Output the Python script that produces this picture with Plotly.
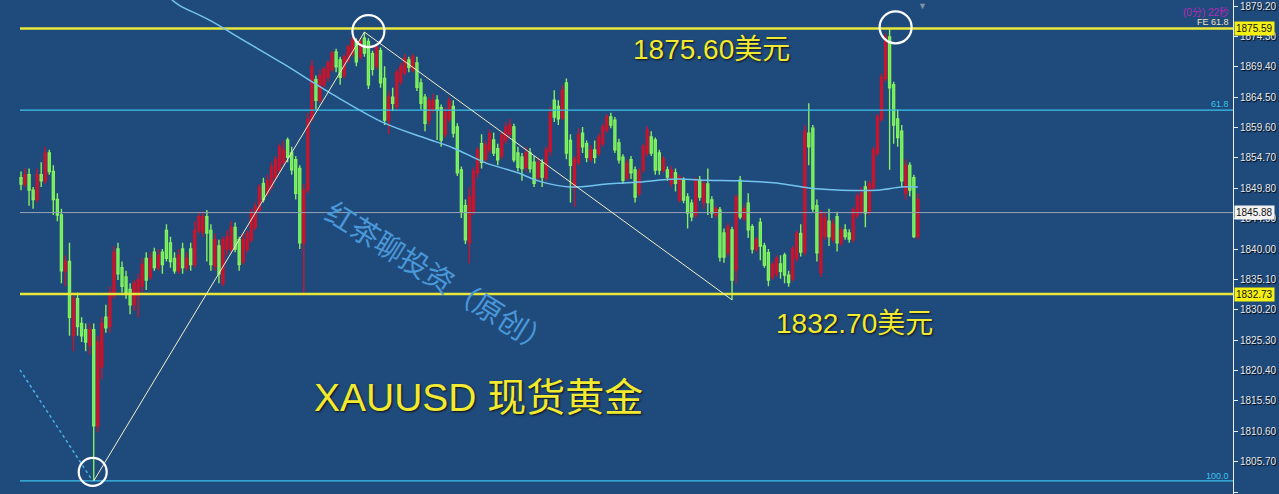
import plotly.graph_objects as go

# ---------------- data ----------------
opens = [
    1851.5, 1850.5, 1852.0, 1849.5, 1848.0, 1852.0, 1851.0, 1855.5, 1852.5, 1848.0,
    1845.5, 1836.5, 1838.0, 1826.0, 1832.0, 1828.0, 1827.0, 1824.5, 1827.0, 1811.5,
    1821.0, 1829.0, 1827.5, 1832.5, 1840.0, 1837.0, 1835.5, 1833.5, 1831.0, 1832.5,
    1834.0, 1838.5, 1835.5, 1839.5, 1837.0, 1839.5, 1843.0, 1841.0, 1838.5, 1836.5,
    1840.0, 1837.0, 1840.0, 1837.5,
    1843.0, 1842.8, 1845.2, 1843.0, 1837.2, 1840.5, 1834.5, 1840.0, 1840.0, 1843.5,
    1841.5, 1838.0, 1840.0, 1841.5, 1843.5, 1846.3, 1850.6, 1849.0, 1850.0, 1851.6,
    1852.8, 1854.0, 1857.6, 1855.5, 1854.4, 1853.0, 1841.0, 1849.5, 1861.0, 1867.3,
    1864.0, 1866.5, 1867.7, 1869.0, 1871.8, 1870.5, 1868.0, 1870.5, 1871.5, 1873.5,
    1871.0, 1874.0, 1873.5, 1871.5, 1869.5, 1872.0,
    1867.5, 1860.8, 1864.5, 1863.0, 1867.0, 1868.5, 1870.5, 1868.9, 1870.0, 1866.8,
    1864.5, 1860.8, 1862.4, 1864.0, 1862.8, 1858.5, 1861.0, 1863.0, 1859.7, 1852.75,
    1847.0, 1841.0, 1846.0, 1852.3, 1857.0, 1854.5, 1856.0, 1857.6, 1856.2, 1855.0,
    1857.6, 1858.5, 1859.7, 1855.5, 1854.8, 1853.2, 1855.5, 1854.0, 1851.6, 1853.8,
    1851.5, 1855.8, 1864.0, 1863.0, 1861.2, 1866.8,
    1857.5, 1850.0, 1854.0, 1858.7, 1857.0, 1854.5, 1856.0, 1855.5, 1857.0, 1859.2,
    1861.3, 1860.8, 1857.1, 1854.8, 1851.5, 1854.4, 1852.75, 1849.0, 1852.8, 1855.5,
    1858.1, 1857.6, 1855.5, 1852.75, 1852.75, 1850.6, 1852.3, 1847.9, 1851.1, 1848.4,
    1847.4, 1845.5, 1851.1, 1847.5, 1850.5, 1847.9, 1845.5, 1846.3, 1842.6, 1839.4,
    1843.1, 1836.6, 1851.1, 1845.0,
    1847.4, 1843.6, 1840.0, 1844.3, 1840.5, 1839.4, 1835.5, 1836.0, 1837.6, 1839.0,
    1835.8, 1835.2, 1838.5, 1842.5, 1839.5, 1858.7, 1859.5, 1847.0, 1836.2, 1842.0,
    1844.5, 1841.5, 1845.2, 1841.0, 1843.1, 1842.6, 1841.5, 1845.5, 1846.0, 1850.0,
    1846.0, 1850.0, 1855.5, 1861.0, 1867.5, 1874.2, 1866.5, 1861.0, 1859.0, 1849.0,
    1853.5, 1851.5, 1842.0,
]
highs = [
    1852.5, 1853.0, 1853.0, 1850.0, 1853.0, 1854.0, 1856.5, 1856.0, 1853.5, 1849.0,
    1846.5, 1839.0, 1841.0, 1833.0, 1833.0, 1829.0, 1828.0, 1828.0, 1828.0, 1826.0,
    1829.0, 1831.0, 1834.0, 1840.5, 1841.0, 1838.0, 1836.5, 1834.5, 1835.0, 1836.0,
    1838.5, 1839.5, 1839.5, 1840.2, 1840.0, 1840.0, 1844.0, 1842.0, 1839.5, 1840.0,
    1841.0, 1839.5, 1841.0, 1844.5,
    1846.0, 1846.0, 1846.3, 1844.0, 1842.5, 1841.5, 1842.0, 1843.0, 1844.5, 1844.3,
    1842.0, 1842.5, 1843.0, 1846.5, 1847.5, 1850.5, 1851.5, 1852.0, 1854.0, 1855.0,
    1857.0, 1857.5, 1858.0, 1856.5, 1855.0, 1853.5, 1850.5, 1862.0, 1870.5, 1868.0,
    1869.0, 1869.5, 1870.5, 1872.0, 1872.3, 1871.0, 1871.5, 1873.0, 1874.2, 1874.0,
    1874.2, 1875.0, 1874.0, 1872.0, 1873.0, 1872.5,
    1869.5, 1865.5, 1866.0, 1869.0, 1870.0, 1871.5, 1871.0, 1871.5, 1871.0, 1867.5,
    1865.0, 1864.5, 1865.0, 1864.8, 1863.3, 1862.8, 1864.5, 1864.0, 1860.3, 1853.3,
    1848.0, 1850.0, 1853.2, 1856.5, 1858.5, 1857.5, 1859.3, 1858.8, 1857.0, 1859.0,
    1860.5, 1861.0, 1860.2, 1856.5, 1855.5, 1856.5, 1856.3, 1855.0, 1854.8, 1854.5,
    1856.6, 1863.0, 1865.6, 1864.0, 1866.5, 1867.5,
    1858.5, 1855.0, 1859.5, 1859.7, 1857.5, 1856.8, 1857.5, 1858.6, 1860.3, 1861.8,
    1862.0, 1861.3, 1857.8, 1855.3, 1854.5, 1855.0, 1853.3, 1853.0, 1857.0, 1859.8,
    1859.0, 1858.0, 1856.0, 1855.0, 1853.3, 1853.4, 1853.0, 1852.0, 1851.6, 1849.0,
    1848.0, 1851.6, 1851.8, 1851.0, 1853.0, 1848.5, 1847.0, 1846.8, 1843.3, 1844.2,
    1843.6, 1848.8, 1851.8, 1847.2,
    1849.0, 1844.0, 1842.0, 1845.0, 1841.0, 1840.0, 1838.0, 1839.0, 1839.0, 1839.4,
    1836.5, 1840.5, 1843.0, 1844.0, 1860.0, 1863.5, 1860.0, 1848.0, 1846.3, 1845.8,
    1846.5, 1844.8, 1846.0, 1843.5, 1844.0, 1843.2, 1846.8, 1849.0, 1850.0, 1851.0,
    1851.0, 1856.5, 1861.8, 1868.3, 1874.8, 1875.6, 1867.0, 1862.5, 1860.0, 1854.5,
    1854.0, 1852.0, 1849.0,
]
lows = [
    1849.5, 1850.0, 1847.0, 1846.5, 1847.5, 1850.0, 1850.5, 1852.0, 1845.5, 1844.5,
    1834.5, 1834.0, 1826.0, 1823.5, 1826.0, 1825.0, 1823.5, 1823.0, 1802.6, 1810.5,
    1819.0, 1826.5, 1826.5, 1832.0, 1835.0, 1833.0, 1832.0, 1829.5, 1830.0, 1829.0,
    1833.0, 1833.4, 1835.0, 1836.5, 1836.5, 1836.0, 1838.0, 1837.0, 1836.0, 1836.0,
    1836.0, 1836.5, 1836.5, 1837.0,
    1842.5, 1842.0, 1838.0, 1836.5, 1836.5, 1834.5, 1834.0, 1839.0, 1839.5, 1839.5,
    1836.5, 1837.5, 1839.5, 1841.0, 1843.0, 1845.8, 1847.5, 1848.5, 1849.5, 1851.0,
    1852.3, 1853.5, 1854.0, 1852.0, 1848.0, 1840.0, 1832.5, 1849.0, 1860.5, 1862.5,
    1863.5, 1866.0, 1867.0, 1868.5, 1868.5, 1866.5, 1867.5, 1870.0, 1871.0, 1869.5,
    1870.5, 1871.0, 1865.8, 1868.0, 1869.0, 1866.0,
    1860.0, 1858.5, 1862.3, 1862.5, 1866.5, 1868.0, 1868.5, 1868.5, 1865.5, 1862.5,
    1859.0, 1860.0, 1862.0, 1857.6, 1856.5, 1858.0, 1860.5, 1858.0, 1851.8, 1845.0,
    1840.8, 1837.7, 1845.5, 1851.5, 1853.0, 1854.0, 1855.5, 1855.0, 1853.5, 1854.5,
    1857.0, 1858.0, 1854.0, 1852.5, 1851.0, 1852.5, 1852.3, 1850.0, 1851.0, 1850.0,
    1851.0, 1855.0, 1860.5, 1860.0, 1860.8, 1854.5,
    1847.5, 1846.8, 1853.5, 1855.5, 1854.0, 1854.0, 1853.8, 1855.0, 1856.5, 1858.8,
    1859.5, 1855.5, 1853.8, 1850.5, 1851.0, 1851.3, 1847.5, 1848.5, 1852.3, 1855.0,
    1855.0, 1852.0, 1852.0, 1852.3, 1851.0, 1850.0, 1849.3, 1847.5, 1847.4, 1843.3,
    1844.5, 1845.0, 1847.8, 1846.5, 1845.5, 1845.0, 1845.0, 1838.0, 1837.8, 1838.8,
    1831.8, 1834.5, 1844.8, 1844.5,
    1841.8, 1839.3, 1839.5, 1838.2, 1837.0, 1834.0, 1835.0, 1835.5, 1835.2, 1834.5,
    1833.9, 1834.8, 1838.0, 1838.8, 1839.0, 1853.5, 1846.0, 1838.0, 1835.5, 1841.5,
    1840.5, 1841.0, 1839.6, 1840.5, 1841.5, 1841.0, 1841.0, 1845.0, 1845.6, 1843.5,
    1845.5, 1849.5, 1855.0, 1860.5, 1867.0, 1852.8, 1857.0, 1856.5, 1850.0, 1848.0,
    1848.5, 1841.8, 1841.5,
]
closes = [
    1850.5, 1852.0, 1849.5, 1848.0, 1852.0, 1851.0, 1855.5, 1852.5, 1848.0, 1845.5,
    1836.5, 1838.0, 1829.0, 1832.0, 1827.5, 1826.0, 1825.0, 1827.0, 1811.5, 1825.0,
    1828.0, 1827.3, 1833.0, 1839.5, 1836.0, 1834.0, 1833.0, 1831.0, 1834.5, 1835.0,
    1837.5, 1835.0, 1838.5, 1837.0, 1839.0, 1837.5, 1838.5, 1838.0, 1836.5, 1839.0,
    1837.0, 1838.5, 1837.5, 1843.0,
    1845.2, 1845.2, 1842.6, 1837.5, 1841.5, 1836.0, 1841.5, 1842.0, 1843.5, 1840.0,
    1837.5, 1841.5, 1842.5, 1845.8, 1846.8, 1850.0, 1848.0, 1851.0, 1853.2, 1854.4,
    1856.5, 1856.0, 1854.8, 1852.8, 1849.0, 1841.0, 1849.5, 1861.0, 1869.5, 1864.0,
    1868.0, 1869.0, 1870.0, 1871.6, 1869.4, 1867.7, 1871.0, 1872.6, 1873.7, 1870.2,
    1873.5, 1871.6, 1866.5, 1869.0, 1872.5, 1866.8,
    1860.8, 1864.5, 1863.5, 1868.5, 1869.4, 1870.8, 1869.3, 1871.0, 1866.1, 1863.5,
    1860.3, 1863.9, 1864.0, 1862.4, 1857.6, 1862.0, 1863.9, 1858.7, 1852.3, 1846.0,
    1841.5, 1848.5, 1852.5, 1856.0, 1854.0, 1856.8, 1858.6, 1855.5, 1854.4, 1858.4,
    1859.7, 1860.0, 1854.4, 1853.2, 1853.0, 1855.5, 1853.0, 1850.6, 1854.0, 1851.6,
    1856.0, 1862.0, 1861.3, 1861.0, 1865.6, 1855.5,
    1853.5, 1854.5, 1858.5, 1856.5, 1854.8, 1856.0, 1854.8, 1858.0, 1859.7, 1861.3,
    1860.0, 1856.0, 1854.4, 1851.1, 1853.8, 1852.3, 1848.4, 1852.5, 1856.5, 1859.2,
    1855.5, 1852.75, 1852.75, 1854.5, 1851.6, 1852.7, 1850.6, 1851.6, 1847.9, 1845.8,
    1845.2, 1851.0, 1848.4, 1850.5, 1847.5, 1845.8, 1846.5, 1838.7, 1838.7, 1843.6,
    1835.0, 1848.4, 1845.2, 1846.5,
    1843.1, 1840.0, 1841.5, 1840.5, 1837.4, 1835.0, 1837.5, 1838.5, 1836.4, 1835.8,
    1834.6, 1840.0, 1842.5, 1839.5, 1859.0, 1856.5, 1846.5, 1839.4, 1845.8, 1845.0,
    1842.0, 1844.0, 1841.0, 1843.0, 1842.0, 1841.6, 1846.3, 1848.5, 1849.0, 1845.8,
    1850.5, 1856.0, 1861.3, 1867.7, 1874.2, 1866.0, 1860.0, 1858.0, 1851.0, 1853.5,
    1849.5, 1842.0, 1848.0,
]
bar_index = list(range(len(opens)))

# long moving average (light blue curve)
ma_index = [37, 39, 47, 55, 65, 77, 90, 100, 107, 115, 123, 128, 136, 145, 153,
            162, 170, 178, 187, 195, 203, 212, 218, 222]
ma_values = [1880.4, 1879.4, 1876.8, 1873.7, 1869.85, 1865.0, 1860.3, 1857.9, 1856.3,
             1853.9, 1852.3, 1851.0, 1850.0, 1850.5, 1850.8, 1851.3, 1851.1, 1851.0,
             1850.65, 1849.85, 1849.5, 1849.5, 1850.0, 1850.0]

# horizontal levels
level_values = [1875.59, 1862.4, 1845.88, 1832.73, 1802.6]
level_colors = ["#e8e83a", "#3cc4ee", "#98a2b6", "#e8e83a", "#3cc4ee"]
level_widths = [2.5, 1.2, 1, 2.5, 1.2]

# dotted leg of the expansion tool
dotted_index = [-0.25, 17.75]
dotted_values = [1820.5, 1802.6]

# right-axis ticks
tick_values = [1879.20, 1874.30, 1869.40, 1864.50, 1859.60, 1854.70, 1849.80,
               1844.90, 1840.00, 1835.10, 1830.20, 1825.30, 1820.40, 1815.50,
               1810.60, 1805.70, 1800.80]
tick_labels = ["%.2f" % v for v in tick_values]

# ---------------- figure ----------------
BG = "#1f4a7c"
W, H = 1279, 494
PLOT_W = 1233
X_RANGE = [-21 / 4.04, (PLOT_W - 21) / 4.04]
Y_RANGE = [1800.49, 1880.17]

fig = go.Figure()

# horizontal levels
for v, c, w in zip(level_values, level_colors, level_widths):
    fig.add_trace(go.Scatter(x=[-0.25, X_RANGE[1]], y=[v, v], mode="lines",
                             line=dict(color=c, width=w), hoverinfo="skip",
                             showlegend=False))

# moving average
fig.add_trace(go.Scatter(x=ma_index, y=ma_values, mode="lines",
                         line=dict(color="#72c4ee", width=1.5, shape="spline"),
                         hoverinfo="skip", showlegend=False))

# candles
fig.add_trace(go.Candlestick(
    x=bar_index, open=opens, high=highs, low=lows, close=closes,
    increasing=dict(fillcolor="#c8142c", line=dict(color="#c8142c", width=1.4)),
    decreasing=dict(fillcolor="#4cee52", line=dict(color="#86f060", width=1.4)),
    whiskerwidth=0, showlegend=False))

# trend lines: low -> first peak -> retest low
low_i = min(range(len(lows)), key=lambda i: lows[i])
peak_i = max(range(0, 150), key=lambda i: highs[i])
end_i = min(range(150, len(lows)), key=lambda i: lows[i])
spike_i = max(range(150, len(highs)), key=lambda i: highs[i])
fig.add_trace(go.Scatter(x=[low_i, peak_i, end_i],
                         y=[lows[low_i], highs[peak_i], lows[end_i]],
                         mode="lines", line=dict(color="#f2f0c8", width=1),
                         hoverinfo="skip", showlegend=False))
fig.add_trace(go.Scatter(x=dotted_index, y=dotted_values, mode="lines",
                         line=dict(color="#4aaee6", width=1.5, dash="dot"),
                         hoverinfo="skip", showlegend=False))

# circles (pixel-sized, anchored to the data points)
def circle(xa, ya, r, dx=0, dy=0):
    return dict(type="circle", xref="x", yref="y", xsizemode="pixel",
                ysizemode="pixel", xanchor=xa, yanchor=ya,
                x0=dx - r, x1=dx + r, y0=dy - r, y1=dy + r,
                line=dict(color="white", width=2.2), layer="above")

shapes = [
    circle(low_i, lows[low_i], 14, dx=-1, dy=9),
    circle(peak_i, highs[peak_i], 16, dx=4, dy=1),
    circle(spike_i, highs[spike_i], 16, dx=6, dy=1),
]

TXT = "Liberation Sans, Noto Sans CJK SC, sans-serif"
YEL = "#f2ea30"
SH = "1px 1px 2px #101010"

def px_ann(text, px, py, size, color, xanchor="center", angle=0, family=TXT,
           shadow=SH, **kw):
    return dict(text=text, xref="paper", yref="paper", x=px / PLOT_W,
                y=1 - py / H, xanchor=xanchor, yanchor="middle", showarrow=False,
                textangle=angle,
                font=dict(size=size, color=color, family=family, shadow=shadow), **kw)

annotations = [
    px_ann("1875.60美元", 711, 50, 28, YEL),
    px_ann("1832.70美元", 854, 323, 28, YEL),
    px_ann("XAUUSD 现货黄金", 478, 397, 39, YEL),
    px_ann("红茶聊投资（原创）", 440, 276, 29, "#4a98d8", angle=32,
           family="Noto Sans CJK SC", shadow="none"),
    px_ann("(0分) 22秒", 1231, 12, 10, "#b42ab4", xanchor="right", shadow="none"),
    px_ann("FE 61.8", 1231, 22, 9, "#f0e8c0", xanchor="right", shadow="none"),
    px_ann("61.8", 1231, 104, 9, "#3cc4ee", xanchor="right", shadow="none"),
    px_ann("100.0", 1231, 476, 9, "#3cc4ee", xanchor="right", shadow="none"),
    px_ann("▼", 922, 6, 9, "#8090a8", shadow="none"),
]

# price boxes on the right axis
for v, bg in [(1875.59, "#f4f014"), (1832.73, "#f4f014"), (1845.88, "#f2f2f2")]:
    annotations.append(dict(text="%.2f" % v, xref="paper", yref="y", x=1, y=v,
                            xanchor="left", yanchor="middle", xshift=1,
                            showarrow=False, bgcolor=bg, borderpad=1,
                            font=dict(size=10, color="#111111", family=TXT)))

fig.update_layout(
    width=W, height=H,
    margin=dict(l=0, r=W - PLOT_W, t=0, b=0, pad=0),
    paper_bgcolor=BG, plot_bgcolor=BG,
    showlegend=False,
    shapes=shapes, annotations=annotations,
    xaxis=dict(range=X_RANGE, visible=False, rangeslider=dict(visible=False),
               showgrid=False, zeroline=False),
    yaxis=dict(range=Y_RANGE, side="right", showgrid=False, zeroline=False,
               tickvals=tick_values, ticktext=tick_labels,
               showline=True, linecolor="#e8eef6", linewidth=1,
               ticks="outside", ticklen=4, tickcolor="#e8eef6",
               tickfont=dict(size=10, color="#e6ebf2", family=TXT,
                             shadow="1px 1px 1px #000000")),
)

fig.write_html(
    "out.html",
    config={"displayModeBar": False},
    post_script="document.body.style.margin='0';"
                "document.body.style.background='" + BG + "';",
)
